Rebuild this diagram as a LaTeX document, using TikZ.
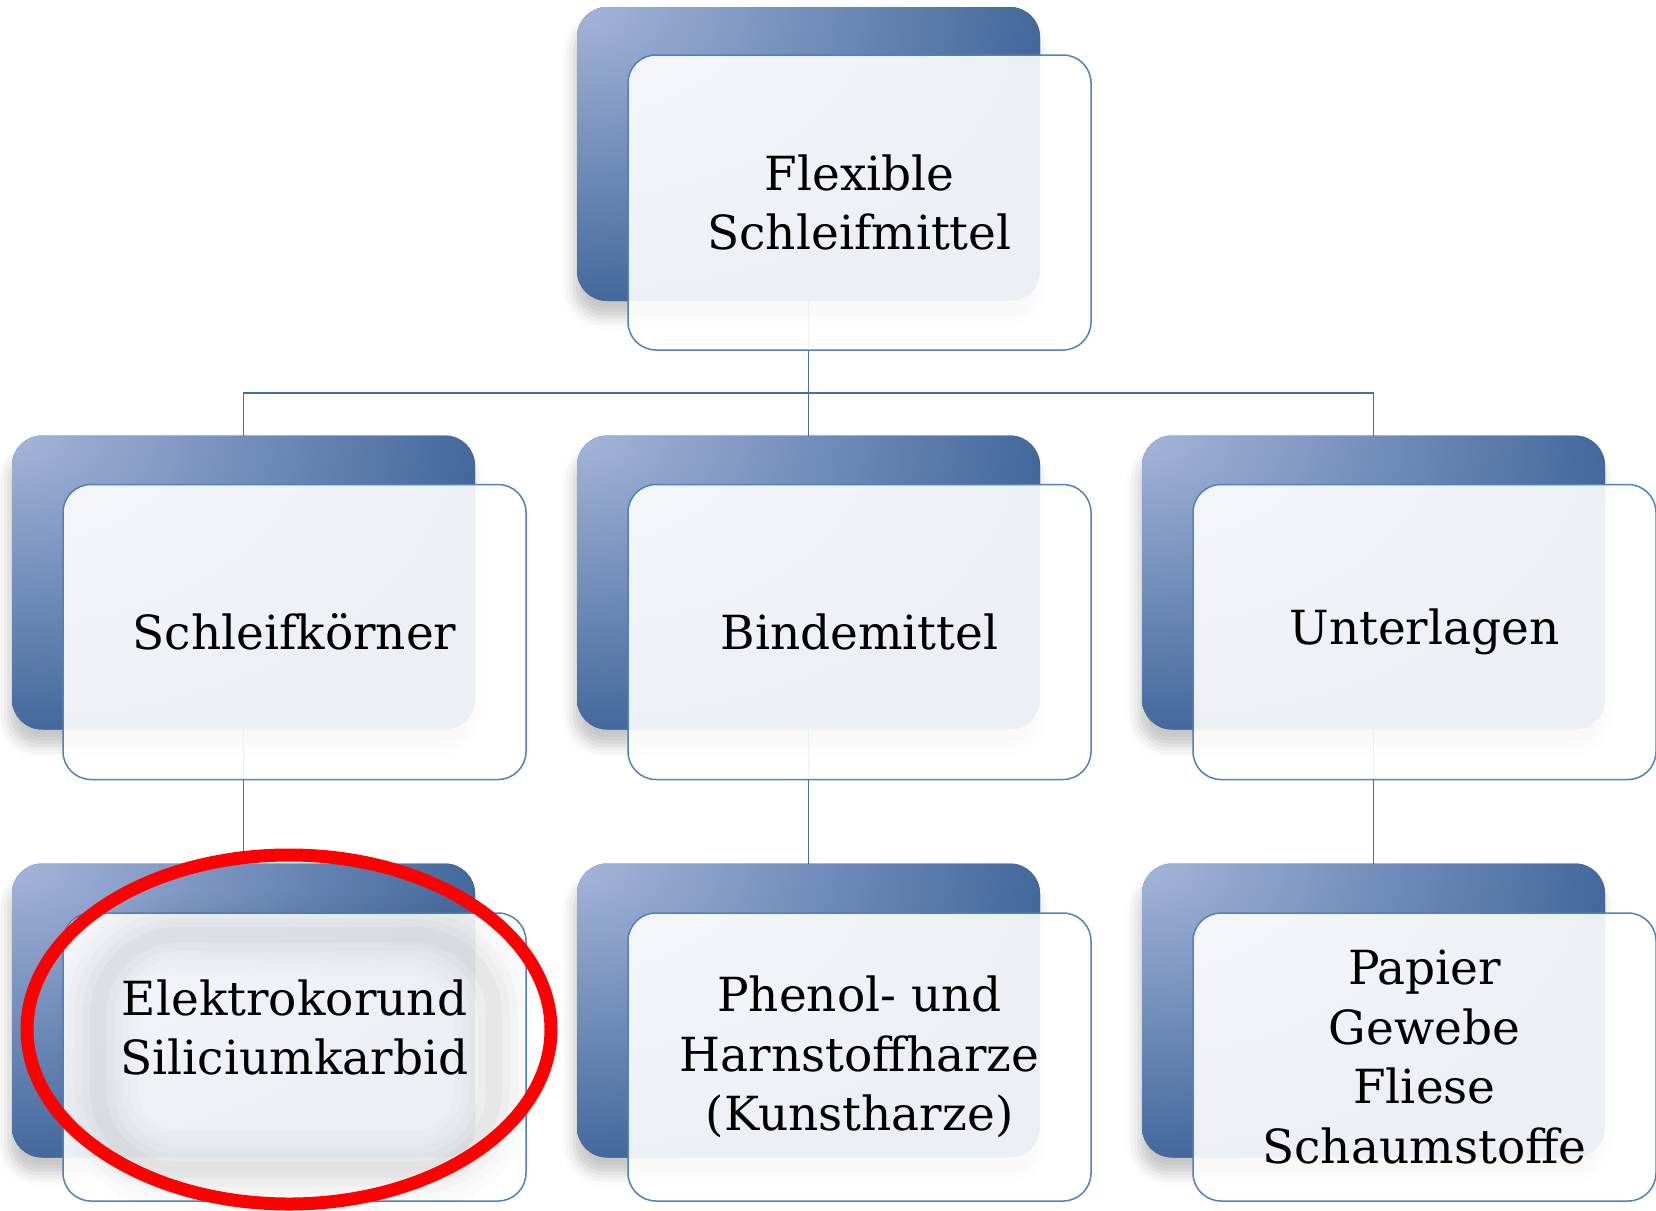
\documentclass[tikz,border=0pt]{standalone}
\usepackage{fontspec}
\setmainfont{DejaVu Serif}
\usetikzlibrary{shadows.blur,shapes.geometric}
\definecolor{bblue}{RGB}{79,129,189}
\definecolor{blight}{RGB}{164,181,218}
\definecolor{bdark}{RGB}{66,103,155}
\definecolor{connblue}{RGB}{70,110,165}
\pgfdeclareradialshading{cornershade}{\pgfpointorigin}{color(0bp)=(blight); color(25bp)=(bdark); color(50bp)=(bdark)}
\tikzset{
  backbox/.style={fill=bdark, rounded corners=30pt,
    minimum width=463pt, minimum height=294pt, inner sep=0pt, outer sep=0pt,
    path picture={\shade[shading=cornershade] (path picture bounding box.north west) ellipse [x radius=470pt, y radius=300pt];},
    blur shadow={shadow xshift=-3pt, shadow yshift=-16pt, shadow blur radius=12pt, shadow opacity=22}},
  frontbox/.style={draw=bblue, line width=1.5pt, fill=white, fill opacity=0.9, text opacity=1,
    rounded corners=28pt, minimum width=463pt, minimum height=295pt, inner sep=0pt, outer sep=0pt,
    align=center, font=\fontsize{47}{59.5}\selectfont},
  conn/.style={draw=connblue, line width=1.5pt},
  redmark/.style={ellipse, draw=red, line width=13pt, minimum width=524pt, minimum height=349pt, inner sep=0pt}
}
\begin{document}
\begin{tikzpicture}[x=1pt,y=-1pt]
\useasboundingbox (0,0) rectangle (1656,1210);
% back boxes
\node[backbox] (b0) at (808.5,154) {};
\node[backbox] (b1) at (243.5,582.5) {};
\node[backbox] (b2) at (808.5,582.5) {};
\node[backbox] (b3) at (1373.5,582.5) {};
\node[backbox] (c1) at (243.5,1010.5) {};
\node[backbox] (c2) at (808.5,1010.5) {};
\node[backbox] (c3) at (1373.5,1010.5) {};
% connectors
\coordinate (bus) at (808.5,393);
\draw[conn] (b0.south) -- (bus);
\draw[conn] (bus) -| (b1.north);
\draw[conn] (bus) -- (b2.north);
\draw[conn] (bus) -| (b3.north);
\draw[conn] (b1.south) -- (c1.north);
\draw[conn] (b2.south) -- (c2.north);
\draw[conn] (b3.south) -- (c3.north);
% front boxes
\node[frontbox] (f0) at (859.5,202.5) {Flexible\\Schleifmittel};
\node[frontbox] (f1) at (294.5,632) {Schleifkörner};
\node[frontbox] (f2) at (859.5,632) {Bindemittel};
\node[frontbox] (f3) at (1424.5,632) {Unterlagen};
\node[frontbox, minimum height=288pt] (g1) at (294.5,1057) {Elektrokorund\\Siliciumkarbid\\\mbox{}};
\node[frontbox, minimum height=288pt] (g2) at (859.5,1057) {Phenol- und\\Harnstoffharze\\(Kunstharze)};
\node[frontbox, minimum height=288pt] (g3) at (1424.5,1057) {Papier\\Gewebe\\Fliese\\Schaumstoffe};
% soft grey glow inside the marked box
\foreach \w/\o in {80/0.01,64/0.013,48/0.016,32/0.02,16/0.022}
  \draw[black, opacity=\o, line width=\w pt, rounded corners=80pt] (98,935) rectangle (494,1170);
% red mark
\node[redmark] (mark) at (289,1029.5) {};
\end{tikzpicture}
\end{document}
